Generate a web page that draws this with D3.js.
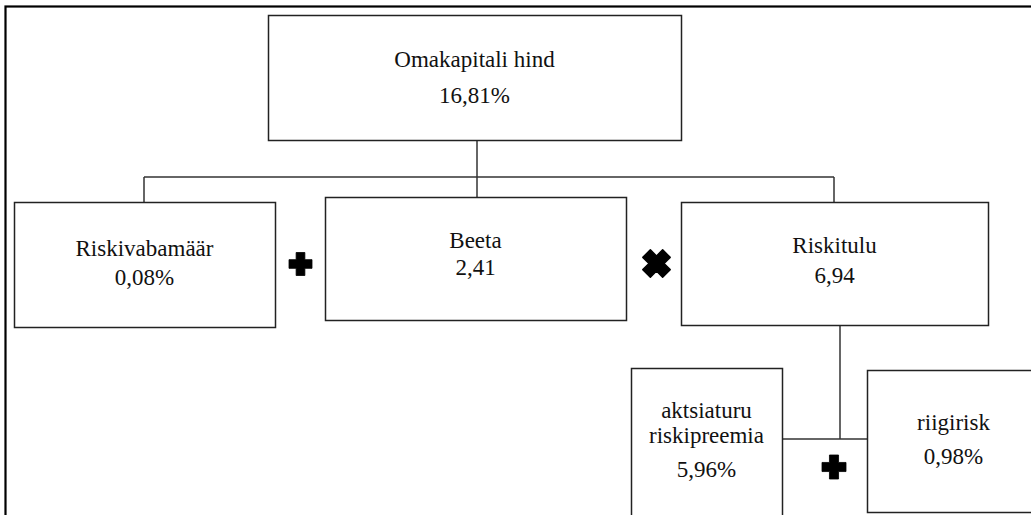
<!DOCTYPE html>
<html>
<head>
<meta charset="utf-8">
<script src="https://cdn.jsdelivr.net/npm/d3@7"></script>
</head>
<body style="margin:0">
<script>
// node texts
var names = ["Omakapitali hind", "Riskivabamäär", "Beeta", "Riskitulu", "aktsiaturu\nriskipreemia", "riigirisk"]
var values = ["16,81%", "0,08%", "2,41", "6,94", "5,96%", "0,98%"]
// operators between boxes
var operators = ["+", "x", "+"]

// layout (box edges and text baselines)
var boxes = [
  {x0: 268, y0: 15, x1: 681, y1: 140, base: [67, 103]},
  {x0: 14, y0: 202, x1: 275, y1: 327, base: [256, 285]},
  {x0: 325, y0: 197, x1: 626, y1: 320, base: [248, 275]},
  {x0: 681, y0: 202, x1: 988, y1: 325, base: [253, 283]},
  {x0: 631, y0: 368, x1: 782, y1: 540, base: [418, 443, 477]},
  {x0: 867, y0: 370, x1: 1040, y1: 512, base: [430, 464]}
]
var opPos = [[300.5, 264, 23], [656.5, 263.5, 28], [834, 467, 24]]

var links = [
  [[477, 140], [477, 197]],
  [[144, 177], [834, 177]],
  [[144, 177], [144, 202]],
  [[834, 177], [834, 202]],
  [[840, 325], [840, 439]],
  [[782, 439], [867, 439]]
]

var width = 1031, height = 515

var svg = d3.select("body").append("svg")
    .attr("width", width)
    .attr("height", height)
    .style("display", "block")

// outer frame, runs off the right and bottom edges
svg.append("rect")
    .attr("x", 5.5).attr("y", 6.5)
    .attr("width", 1100).attr("height", 600)
    .attr("fill", "none")
    .attr("stroke", "#000")
    .attr("stroke-width", 2.2)

var line = d3.line()
svg.selectAll(".link")
  .data(links)
  .join("path")
    .attr("class", "link")
    .attr("d", line)
    .attr("fill", "none")
    .attr("stroke", "#333")
    .attr("stroke-width", 1.5)

svg.selectAll(".box")
  .data(boxes)
  .join("rect")
    .attr("class", "box")
    .attr("x", d => d.x0 + 0.5)
    .attr("y", d => d.y0 + 0.5)
    .attr("width", d => d.x1 - d.x0)
    .attr("height", d => d.y1 - d.y0)
    .attr("fill", "#fff")
    .attr("stroke", "#222")
    .attr("stroke-width", 1.5)

boxes.forEach(function(d, i) {
  var cx = (d.x0 + d.x1) / 2
  names[i].split("\n").concat([values[i]]).forEach(function(t, j) {
    svg.append("text")
        .attr("x", cx)
        .attr("y", d.base[j])
        .attr("text-anchor", "middle")
        .attr("font-family", "Times New Roman")
        .attr("font-size", 23)
        .attr("fill", "#111")
        .text(t)
  })
})

// bold plus / cross symbols
function crossPath(s) {
  var a = s / 2, w = s * 0.19
  return `M${-w},${-a}H${w}V${-w}H${a}V${w}H${w}V${a}H${-w}V${w}H${-a}V${-w}H${-w}Z`
}

svg.selectAll(".op")
  .data(operators)
  .join("path")
    .attr("class", "op")
    .attr("transform", (d, i) => `translate(${opPos[i][0]},${opPos[i][1]})` + (d === "x" ? " rotate(45)" : ""))
    .attr("d", (d, i) => crossPath(opPos[i][2]))
    .attr("fill", "#000")
    .attr("stroke", "#000")
    .attr("stroke-width", d => d === "x" ? 1.5 : 0.8)
    .attr("stroke-linejoin", "round")
</script>
</body>
</html>
